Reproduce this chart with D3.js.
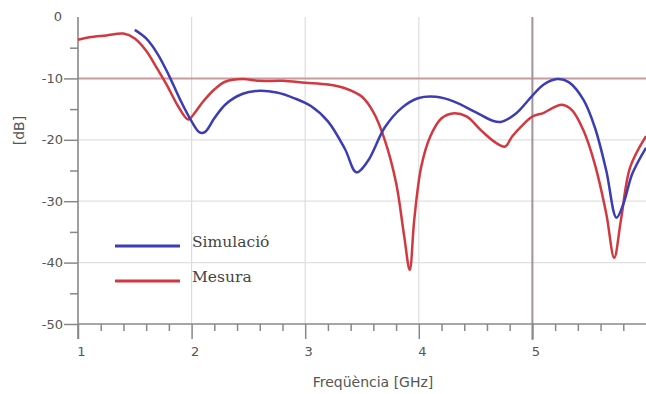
<!DOCTYPE html>
<html>
<head>
<meta charset="utf-8">
<script src="https://cdn.jsdelivr.net/npm/d3@7"></script>
<style>
  body { margin: 0; background: #fff; }
  svg { display: block; }
</style>
</head>
<body>
<svg id="chart" width="646" height="394"></svg>
<script>
// Simulació (blue)
const simFreq = [1.50, 1.60, 1.70, 1.80, 1.90, 2.00, 2.07, 2.12, 2.20, 2.30, 2.45, 2.60, 2.75, 2.90, 3.05, 3.20, 3.35, 3.45, 3.55, 3.70, 3.85, 4.00, 4.15, 4.30, 4.50, 4.65, 4.72, 4.85, 5.00, 5.10, 5.22, 5.32, 5.45, 5.55, 5.65, 5.74, 5.80, 5.88, 6.00];
const simDb = [-2.1, -3.5, -6.0, -9.5, -13.5, -17.0, -18.8, -18.7, -16.5, -14.2, -12.5, -12.0, -12.3, -13.2, -14.5, -17.0, -21.5, -25.3, -23.5, -18.0, -14.8, -13.2, -13.0, -13.7, -15.5, -16.9, -17.1, -15.8, -12.8, -11.0, -10.1, -10.6, -13.5, -18.0, -25.0, -32.7, -30.5, -25.5, -21.3];

// Mesura (red)
const mesFreq = [1.00, 1.10, 1.25, 1.40, 1.50, 1.60, 1.70, 1.78, 1.88, 1.97, 2.02, 2.10, 2.20, 2.30, 2.45, 2.60, 2.80, 3.00, 3.20, 3.35, 3.50, 3.60, 3.70, 3.80, 3.87, 3.92, 3.96, 4.02, 4.10, 4.20, 4.30, 4.42, 4.55, 4.68, 4.76, 4.82, 4.92, 5.00, 5.10, 5.18, 5.26, 5.35, 5.45, 5.55, 5.65, 5.72, 5.78, 5.86, 6.00];
const mesDb = [-3.7, -3.3, -3.0, -2.7, -3.5, -5.5, -8.5, -11.0, -14.5, -16.7, -15.8, -13.8, -11.8, -10.5, -10.1, -10.4, -10.4, -10.7, -11.0, -11.6, -13.0, -15.5, -20.0, -27.0, -35.5, -41.2, -33.0, -24.5, -19.5, -16.5, -15.7, -16.2, -18.5, -20.5, -21.1, -19.5, -17.5, -16.2, -15.6, -14.8, -14.3, -15.2, -18.5, -24.0, -32.0, -39.2, -33.0, -24.5, -19.4];

const xTicks = [1, 2, 3, 4, 5];
const yTicks = [0, -10, -20, -30, -40, -50];
const seriesNames = ["Simulació", "Mesura"];

const margins = { left: 78, right: 0, top: 17, bottom: 70 };

const svg = d3.select("#chart");
const x = d3.scaleLinear().domain([1, 6]).range([margins.left, 646]);
const y = d3.scaleLinear().domain([-50, 0]).range([324, margins.top]);

const font = "'DejaVu Sans', sans-serif";
const label = d => String(d); // plain hyphen, like the original

// grid
svg.append("g")
  .selectAll("line.vgrid")
  .data([2, 3, 4])
  .join("line")
  .attr("x1", d => x(d)).attr("x2", d => x(d))
  .attr("y1", y(0)).attr("y2", y(-50))
  .style("stroke", "#dcdcdc").style("stroke-width", 1.2);

svg.append("g")
  .selectAll("line.hgrid")
  .data([-20, -30, -40])
  .join("line")
  .attr("x1", x(1)).attr("x2", 646)
  .attr("y1", d => y(d)).attr("y2", d => y(d))
  .style("stroke", "#e0e0e0").style("stroke-width", 1.2);

// reference lines
svg.append("line")
  .attr("x1", x(1)).attr("x2", 646)
  .attr("y1", y(-10)).attr("y2", y(-10))
  .style("stroke", "#c99a9e").style("stroke-width", 2);

svg.append("line")
  .attr("x1", x(5)).attr("x2", x(5))
  .attr("y1", y(0)).attr("y2", y(-50) + 16)
  .style("stroke", "#a0939a").style("stroke-width", 2);

// x axis
const xAxis = d3.axisBottom(x)
  .tickValues(d3.range(1, 6.01, 0.2).filter(v => Math.abs(v - Math.round(v)) > 0.01))
  .tickSize(7).tickFormat("");
const xg = svg.append("g").attr("transform", `translate(0,${y(-50)})`).call(xAxis);
xg.select(".domain").remove();
xg.selectAll("line").style("stroke", "#888").style("stroke-width", 1.5);

const xMajor = svg.append("g").attr("transform", `translate(0,${y(-50)})`)
  .call(d3.axisBottom(x).tickValues(xTicks).tickSize(15).tickPadding(8).tickFormat(label));
xMajor.select(".domain").remove();
xMajor.selectAll("line").style("stroke", "#888").style("stroke-width", 1.5);
xMajor.selectAll("text").attr("dx", 3).style("font-family", font).style("font-size", "13px").style("fill", "#555");

svg.append("line")
  .attr("x1", x(1)).attr("x2", 646)
  .attr("y1", y(-50)).attr("y2", y(-50))
  .style("stroke", "#888").style("stroke-width", 1.6);

// y axis
const yMinor = svg.append("g").attr("transform", `translate(${x(1)},0)`)
  .call(d3.axisLeft(y).tickValues([-5, -15, -25, -35, -45]).tickSize(8).tickFormat(""));
yMinor.select(".domain").remove();
yMinor.selectAll("line").style("stroke", "#888").style("stroke-width", 1.5);

const yMajor = svg.append("g").attr("transform", `translate(${x(1)},0)`)
  .call(d3.axisLeft(y).tickValues(yTicks.filter(v => v !== 0)).tickSize(14).tickPadding(1).tickFormat(label));
yMajor.select(".domain").remove();
yMajor.selectAll("line").style("stroke", "#888").style("stroke-width", 1.5);
yMajor.selectAll("text").style("font-family", font).style("font-size", "13px").style("fill", "#555");

svg.append("text")
  .attr("x", x(1) - 16).attr("y", y(0) + 4)
  .attr("text-anchor", "end")
  .style("font-family", font).style("font-size", "13px").style("fill", "#555")
  .text(label(yTicks[0]));

svg.append("line")
  .attr("x1", x(1)).attr("x2", x(1))
  .attr("y1", y(0)).attr("y2", y(-50) + 15)
  .style("stroke", "#888").style("stroke-width", 1.6);

// axis titles
svg.append("text")
  .attr("x", 373).attr("y", 387)
  .attr("text-anchor", "middle")
  .style("font-family", font).style("font-size", "14px").style("fill", "#555")
  .text("Freqüència [GHz]");

svg.append("text")
  .attr("transform", `translate(24,${y(-18.5)}) rotate(-90)`)
  .attr("text-anchor", "middle")
  .style("font-family", font).style("font-size", "14px").style("fill", "#555")
  .text("[dB]");

// the lines
const line = d3.line()
  .x(d => x(d[0]))
  .y(d => y(d[1]))
  .curve(d3.curveCatmullRom.alpha(0.5));

const plot = svg.append("g");
plot.append("path")
  .datum(d3.zip(mesFreq, mesDb))
  .attr("d", line)
  .style("fill", "none").style("stroke", "#d2383f").style("stroke-width", 2.5);

plot.append("path")
  .datum(d3.zip(simFreq, simDb))
  .attr("d", line)
  .style("fill", "none").style("stroke", "#3c3cb4").style("stroke-width", 2.5);

// legend
const legend = svg.append("g");
const legendColours = ["#3c3cb4", "#d2383f"];
seriesNames.forEach((name, i) => {
  const ly = 246 + i * 35;
  legend.append("line")
    .attr("x1", 115).attr("x2", 180).attr("y1", ly).attr("y2", ly)
    .style("stroke", legendColours[i]).style("stroke-width", 3);
  legend.append("text")
    .attr("x", 192).attr("y", ly + 1)
    .style("font-family", "'DejaVu Serif', serif").style("font-size", "15.5px").style("fill", "#444")
    .text(name);
});
</script>
</body>
</html>
